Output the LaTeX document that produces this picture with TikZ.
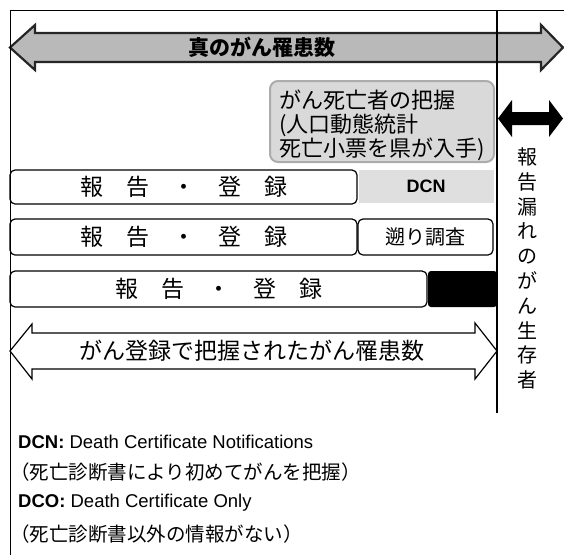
\documentclass[tikz,border=0pt]{standalone}
\usepackage{fontspec}
\setmainfont{Noto Sans CJK JP}
\newfontfamily\latinsans{Liberation Sans}
\begin{document}
\begin{tikzpicture}[x=1pt,y=-1pt,
  regbox/.style={draw, line width=1.2pt, rounded corners=5pt, inner sep=0pt},
  rowtext/.style={font=\fontsize{23}{23}\selectfont},
  notetext/.style={anchor=west, inner sep=0pt}]
\useasboundingbox (0,0) rectangle (564,555);
% big gray double arrow
\draw[fill=gray!55, draw=black!85, line width=2.2pt, line join=miter]
  (10,47.5) -- (35,25) -- (35,33) -- (541,33) -- (541,25) -- (563,47.5)
  -- (541,70) -- (541,62) -- (35,62) -- (35,70) -- cycle;
\node[font=\bfseries\fontsize{21}{21}\selectfont] (truecount) at (262,47.5) {真のがん罹患数};
% gray rounded box
\node[draw=gray!65, fill=gray!30, line width=2pt, rounded corners=8pt,
  minimum width=224pt, minimum height=81pt, inner sep=0pt] (death) at (382,121.5) {};
\node[anchor=west, inner sep=0pt, align=left, font=\fontsize{22}{24}\selectfont]
  (deathtext) at (279,125) {がん死亡者の把握\\(人口動態統計\\死亡小票を県が入手)};
% rows
\node[regbox, minimum width=347pt, minimum height=34pt, rowtext] (r1) at (183.5,187) {報　告　・　登　録};
\node[fill=gray!25, minimum width=135pt, minimum height=33pt, inner sep=0pt,
  font=\latinsans\bfseries\fontsize{18}{18}\selectfont] (dcn) at (426,186.5) {DCN};
\node[regbox, minimum width=347pt, minimum height=36pt, rowtext] (r2) at (183.5,237) {報　告　・　登　録};
\node[regbox, minimum width=135pt, minimum height=36pt, font=\fontsize{20}{20}\selectfont] (retro) at (425.5,237) {遡り調査};
\node[regbox, minimum width=417pt, minimum height=36pt, rowtext] (r3) at (218.5,289) {報　告　・　登　録};
\node[fill=black, rounded corners=3pt, minimum width=69pt, minimum height=36pt, inner sep=0pt] (dco) at (462.5,289) {};
% bottom outlined double arrow
\draw[fill=white, line width=1.2pt, line join=miter]
  (10,351) -- (32,324) -- (32,333) -- (475,333) -- (475,323) -- (497,351)
  -- (475,379) -- (475,369) -- (32,369) -- (32,379) -- cycle;
\node[font=\fontsize{23}{23}\selectfont] (regcount) at (252,351) {がん登録で把握されたがん罹患数};
% frame
\draw[line width=1pt] (10,555) -- (10,10) -- (564,10);
\draw[line width=2.5pt] (497,10) -- (497,413);
% right black double arrow
\fill (498,118.5) -- (512,100) -- (512,112) -- (549,112) -- (549,100) -- (563,118.5)
  -- (549,137) -- (549,125) -- (512,125) -- (512,137) -- cycle;
\node[align=center, font=\fontsize{20}{24.8}\selectfont] (missed) at (527,268.5)
  {報\\告\\漏\\れ\\の\\が\\ん\\生\\存\\者};
% notes
\node[notetext, font=\latinsans\fontsize{18.5}{18.5}\selectfont] (n1) at (18,442) {\textbf{DCN:} Death Certificate Notifications};
\node[notetext, font=\fontsize{19.5}{19.5}\selectfont] (n2) at (10,472) {（死亡診断書により初めてがんを把握）};
\node[notetext, font=\latinsans\fontsize{18.5}{18.5}\selectfont] (n3) at (18,503) {\textbf{DCO:} Death Certificate Only};
\node[notetext, font=\fontsize{19.5}{19.5}\selectfont] (n4) at (10,534) {（死亡診断書以外の情報がない）};
\end{tikzpicture}
\end{document}
